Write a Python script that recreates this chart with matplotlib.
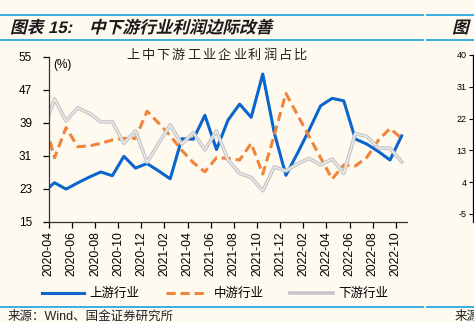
import numpy as np
import matplotlib
matplotlib.use("Agg")
import matplotlib.pyplot as plt
from matplotlib.textpath import TextPath
from matplotlib.patches import PathPatch
from matplotlib.font_manager import FontProperties
from matplotlib.transforms import Affine2D
from matplotlib.lines import Line2D

plt.rcParams['font.family'] = ['Liberation Sans', 'Noto Sans CJK SC', 'DejaVu Sans']
plt.rcParams['axes.unicode_minus'] = False

# monthly data 2020-03 .. 2022-10 (%)
months = ["2020-03", "2020-04", "2020-05", "2020-06", "2020-07", "2020-08", "2020-09",
          "2020-10", "2020-11", "2020-12", "2021-01", "2021-02", "2021-03", "2021-04",
          "2021-05", "2021-06", "2021-07", "2021-08", "2021-09", "2021-10", "2021-11",
          "2021-12", "2022-01", "2022-02", "2022-03", "2022-04", "2022-05", "2022-06",
          "2022-07", "2022-08", "2022-09", "2022-10"]
upstream = [22.0, 24.45, 22.9, 24.4, 25.8, 27.05, 26.15, 30.85, 28.0, 29.1,
            27.3, 25.4, 35.1, 35.0, 40.8, 32.5, 39.65, 43.5, 40.3, 50.8, 36.5, 26.25,
            31.6, 37.2, 43.1, 44.9, 44.3, 35.05, 33.8, 32.0, 29.95, 35.8]
midstream = [41.0, 30.5, 37.8, 33.2, 33.35, 34.0, 34.8, 35.2, 35.2, 41.8,
             38.9, 35.85, 32.3, 29.3, 27.1, 30.5, 30.35, 29.95, 34.0, 26.55, 36.0, 46.1,
             40.9, 35.7, 30.5, 25.35, 28.75, 28.5, 30.6, 34.8, 37.6, 35.2]
downstream = [37.0, 44.75, 39.4, 42.6, 41.3, 39.2, 39.2, 34.0, 37.0, 29.4,
              34.0, 38.45, 33.8, 36.6, 32.4, 37.0, 29.95, 26.7, 25.75, 22.5, 28.3, 27.3,
              29.0, 30.35, 28.75, 30.2, 26.7, 36.4, 35.6, 32.9, 32.8, 29.55]
tick_labels = months[1::2]
right_ticks = [40, 31, 22, 13, 4, -5]

W, H = 474, 322
bg = '#fffaf0'
fig = plt.figure(figsize=(W / 100, H / 100), dpi=100, facecolor=bg)

# header / footer rules
line_c = '#2aa7e0'
for yy in (H - 14.5, H - 40, H - 307):
    fig.add_artist(Line2D([0, 423 / W], [yy / H, yy / H], color=line_c, lw=1.3))
    fig.add_artist(Line2D([427 / W, 1], [yy / H, yy / H], color=line_c, lw=1.3))


def slanted(s, x0, y0, size=12):
    # bold text with a fake italic slant, placed in pixels
    fp = FontProperties(family=['Liberation Sans', 'Noto Sans CJK SC'], weight='bold')
    tp = TextPath((0, 0), s, size=size, prop=fp)
    tr = Affine2D().skew_deg(14, 0).scale(100 / 72).translate(x0, H - y0)
    fig.add_artist(PathPatch(tp, transform=tr, color='#1a1a1a', lw=0))


slanted("图表 15:", 10, 33)
slanted("中下游行业利润边际改善", 89, 33)
slanted("图", 452, 33)

ax = fig.add_axes([48.7 / W, 1 - 221.7 / H, (407.4 - 48.7) / W, (221.7 - 56.7) / H])
ax.set_facecolor(bg)
x = np.arange(len(months)) - 0.5
ax.plot(x, upstream, color='#0a66cc', lw=2.2, label='上游行业')
ax.plot(x, midstream, color='#f0843a', lw=2.2, ls=(0, (3, 1.6)), label='中游行业')
ax.plot(x, downstream, color='#c6c6c6', lw=2.6, label='下游行业')
ax.plot(x, downstream, color='#f2f2f2', lw=0.8)
ax.set_xlim(0, 31)
ax.set_ylim(15, 55)
ax.set_yticks(np.arange(15, 56, 8))
ax.set_xticks(np.arange(0, 31, 2))
ax.set_xticklabels(tick_labels, rotation=90, fontsize=8.8)
ax.tick_params(axis='y', labelsize=8.5, length=4, width=0.9, pad=8)
ax.tick_params(axis='x', length=4, width=0.9, pad=3)
for s in ('top', 'right'):
    ax.spines[s].set_visible(False)
for s in ('left', 'bottom'):
    ax.spines[s].set_linewidth(0.9)
    ax.spines[s].set_color('#333333')
ax.text(0.012, 0.985, "(%)", transform=ax.transAxes, fontsize=8.5, va='top', ha='left')

# chart title, letter-spaced
title = "上中下游工业企业利润占比"
for i, ch in enumerate(title):
    fig.text((126 + 15.25 * i) / W, 1 - 56 / H, ch, fontsize=9.5, ha='left', va='center',
             color='#222222')

# legend
hl = [Line2D([], [], color='#0a66cc', lw=2.2),
      Line2D([], [], color='#f0843a', lw=2.2, ls=(0, (3, 1.6))),
      Line2D([], [], color='#c6c6c6', lw=2.6)]
fig.legend(hl, ['上游行业', '中游行业', '下游行业'], loc='center', ncol=3, frameon=False,
           bbox_to_anchor=(215 / W, 1 - 294 / H), fontsize=9, handlelength=3.4,
           handletextpad=0.45, columnspacing=2.1)

# partial neighbouring chart on the right edge
ax2 = fig.add_axes([473.3 / W, 1 - 222 / H, 0.05, (222 - 55) / H])
ax2.set_facecolor(bg)
ax2.set_ylim(-7.3, 40)
ax2.set_yticks(right_ticks)
ax2.tick_params(axis='y', labelsize=6.5, length=3, width=0.8, pad=2)
ax2.set_xticks([])
for s in ('top', 'right', 'bottom'):
    ax2.spines[s].set_visible(False)
ax2.spines['left'].set_linewidth(0.9)
ax2.axhline(0, color='#333333', lw=0.9)

fig.text(8 / W, 1 - 317 / H, "来源：Wind、国金证券研究所", fontsize=9, va='center', ha='left',
         color='#222222')
fig.text(455 / W, 1 - 317 / H, "来源", fontsize=9, va='center', ha='left', color='#222222')

fig.savefig("out.png", dpi=100, facecolor=bg)
